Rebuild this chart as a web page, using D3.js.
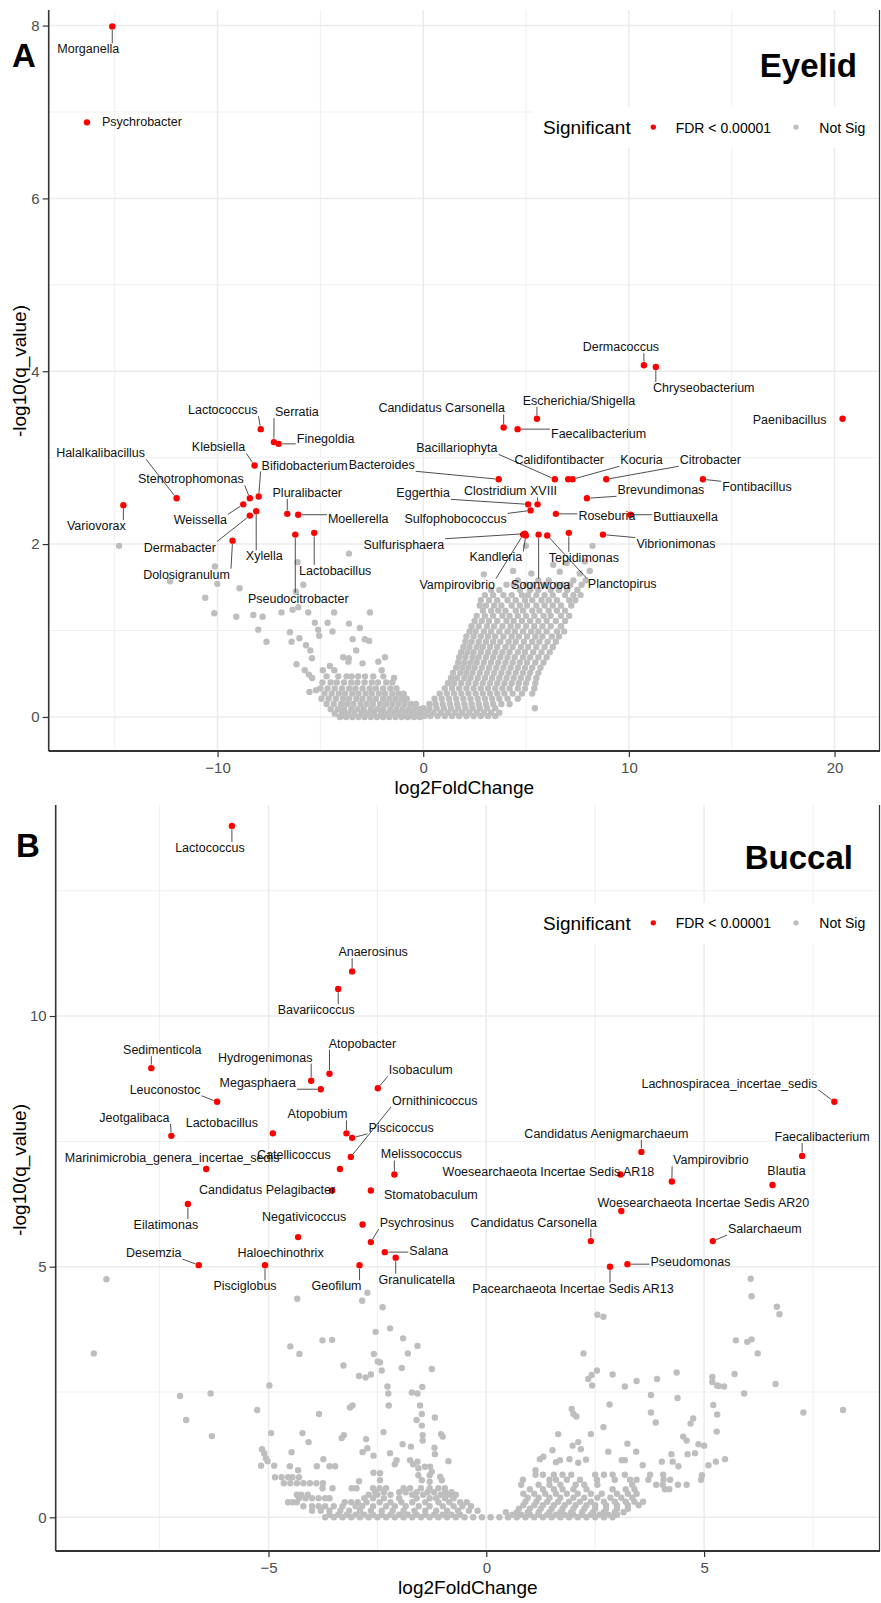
<!DOCTYPE html>
<html>
<head>
<meta charset="utf-8">
<script src="https://cdn.jsdelivr.net/npm/d3@7"></script>
<style>
  body { margin: 0; background: #fff; }
  svg { display: block; font-family: "Liberation Sans", Arial, sans-serif; }
</style>
</head>
<body>
<div id="chart"></div>
<script>
// ---- Panel A (Eyelid): significant genera [name, log2FoldChange, -log10(q)]
var sigA = [
  ["Morganella", -15.12, 7.99], ["Psychrobacter", -16.35, 6.88],
  ["Lactococcus", -7.90, 3.33], ["Serratia", -7.26, 3.18], ["Finegoldia", -7.03, 3.16],
  ["Klebsiella", -8.20, 2.91], ["Bifidobacterium", -8.00, 2.55], ["Bacteroides", 3.67, 2.75],
  ["Halalkalibacillus", -11.99, 2.53], ["Stenotrophomonas", -8.43, 2.53],
  ["Pluralibacter", -6.61, 2.35], ["Moellerella", -6.08, 2.34], ["Weissella", -8.75, 2.46],
  ["Variovorax", -14.58, 2.45], ["Dermabacter", -8.43, 2.33], ["Xylella", -8.12, 2.38],
  ["Dolosigranulum", -9.27, 2.04], ["Lactobacillus", -5.30, 2.13], ["Pseudocitrobacter", -6.22, 2.11],
  ["Candidatus Carsonella", 3.91, 3.35], ["Escherichia/Shigella", 5.53, 3.45],
  ["Faecalibacterium", 4.59, 3.33], ["Dermacoccus", 10.73, 4.07], ["Chryseobacterium", 11.31, 4.05],
  ["Paenibacillus", 20.39, 3.45], ["Bacillariophyta", 6.40, 2.75], ["Calidifontibacter", 7.05, 2.75],
  ["Kocuria", 7.26, 2.75], ["Citrobacter", 8.90, 2.75], ["Fontibacillus", 13.60, 2.75],
  ["Brevundimonas", 7.96, 2.53], ["Eggerthia", 5.10, 2.46], ["Clostridium XVIII", 5.56, 2.46],
  ["Sulfophobococcus", 5.22, 2.39], ["Roseburia", 6.45, 2.35], ["Buttiauxella", 10.08, 2.34],
  ["Sulfurisphaera", 4.94, 2.12], ["Kandleria", 4.99, 2.10], ["Vampirovibrio", 4.86, 2.11],
  ["Soonwooa", 5.61, 2.11], ["Tepidimonas", 7.08, 2.13], ["Planctopirus", 6.03, 2.10],
  ["Vibrionimonas", 8.74, 2.11]
];

// non significant, scattered points [log2FC, -log10(q)]
var greyA = [
  [-14.79,1.98],[-12.31,1.57],[-10.13,1.74],[-10.01,1.54],[-10.6,1.38],[-10.16,1.2],[-9.09,1.16],
  [-8.93,1.49],[-8.26,1.18],[-7.81,1.16],[-8.02,1.01],[-7.62,0.87],[-6.89,1.21],[-6.35,1.24],
  [-6.07,1.27],[-6.19,1.45],[-6.11,1.79],[-5.83,1.53],[-5.59,1.21],[-4.33,1.21],[-3.61,1.89],
  [-2.59,1.21],[-6.48,0.98],[-6.40,0.87],[-6.02,0.91],[-5.27,1.09],[-5.11,1.01],[-5.06,0.94],
  [-4.65,1.09],[-4.41,0.99],[-3.61,1.08],[-3.08,1.03],[-3.43,0.90],[-2.84,0.90],[-2.63,0.88],
  [-3.26,0.77],[-5.70,0.83],[-5.49,0.77],[-5.41,0.68],[-3.62,0.68],[-3.64,0.64],[-4.54,0.59],
  [-6.16,0.61],[-5.76,0.54],[-5.56,0.49],[-5.40,0.45],[-4.88,0.54],[-4.32,0.54],[-2.18,0.64],
  [-1.86,0.69],[-2.02,0.54],[-1.42,0.45],[-5.53,0.29],[-5.21,0.31],[-2.95,0.62],[-3.89,0.69],
  [4.99,1.98],[8.23,1.98],[7.86,1.80],[6.32,1.76],[6.97,1.78],[4.37,1.69],[8.10,1.69],
  [2.95,1.65],[5.26,1.66],[7.61,1.66],[6.64,1.68],[5.43,0.10]
];

// dense part of the cloud, read row by row: [-log10(q), log2FC, log2FC, ...]
var greyRowsA = [
  [1.58, 4.6, 5.6, 6.1, 7.3, 7.9],
  [1.53, 4.05, 4.4, 5.0, 5.35, 5.9, 6.5, 6.8, 7.15, 7.7],
  [1.47, 3.3, 3.7, 4.7, 5.2, 5.6, 6.2, 6.6, 7.0, 7.5],
  [1.41, 3.0, 3.4, 3.9, 4.3, 4.8, 5.1, 5.5, 5.9, 6.3, 6.9, 7.3, 7.65],
  [1.35, 2.8, 3.2, 3.6, 4.1, 4.5, 4.95, 5.3, 5.75, 6.1, 6.5, 7.1, 7.4],
  [1.29, 2.75, 3.05, 3.45, 3.8, 4.3, 4.7, 5.05, 5.5, 5.9, 6.3, 6.7, 7.2],
  [1.23, 2.9, 3.3, 3.65, 4.0, 4.5, 4.85, 5.3, 5.65, 6.1, 6.5, 6.9],
  [1.17, 2.6, 3.0, 3.4, 3.85, 4.2, 4.6, 5.0, 5.4, 5.85, 6.2, 6.7, 7.1],
  [1.11, 2.5, 2.85, 3.2, 3.6, 4.05, 4.4, 4.8, 5.2, 5.6, 6.0, 6.45, 6.9],
  [1.05, 2.35, 2.7, 3.1, 3.45, 3.85, 4.25, 4.6, 5.0, 5.4, 5.8, 6.2, 6.7],
  [0.99, 2.25, 2.55, 2.95, 3.3, 3.7, 4.1, 4.45, 4.85, 5.25, 5.6, 6.0, 6.5, 6.85],
  [0.93, 2.1, 2.45, 2.8, 3.15, 3.5, 3.9, 4.3, 4.65, 5.05, 5.45, 5.8, 6.25, 6.6],
  [0.87, 2.05, 2.35, 2.7, 3.05, 3.4, 3.75, 4.15, 4.5, 4.9, 5.3, 5.65, 6.05, 6.45],
  [0.81, 1.95, 2.25, 2.6, 2.9, 3.25, 3.6, 4.0, 4.35, 4.75, 5.1, 5.5, 5.9, 6.3],
  [0.75, 1.85, 2.15, 2.45, 2.8, 3.15, 3.5, 3.85, 4.2, 4.6, 4.95, 5.35, 5.75, 6.15],
  [0.69, 1.75, 2.05, 2.4, 2.7, 3.05, 3.4, 3.75, 4.1, 4.45, 4.85, 5.2, 5.6, 6.0],
  [0.63, 1.7, 2.0, 2.3, 2.6, 2.95, 3.3, 3.65, 4.0, 4.35, 4.7, 5.05, 5.45, 5.85],
  [0.57, 1.6, 1.9, 2.2, 2.5, 2.85, 3.2, 3.55, 3.9, 4.25, 4.6, 4.95, 5.3, 5.7],
  [0.51, 1.45, 1.8, 2.1, 2.4, 2.75, 3.1, 3.45, 3.8, 4.15, 4.5, 4.85, 5.2, 5.6],
  [0.45, 1.35, 1.65, 2.0, 2.3, 2.65, 3.0, 3.35, 3.7, 4.05, 4.4, 4.75, 5.1, 5.5],
  [0.39, 1.2, 1.5, 1.85, 2.2, 2.55, 2.9, 3.25, 3.6, 3.95, 4.3, 4.65, 5.0, 5.45],
  [0.33, 1.05, 1.4, 1.75, 2.1, 2.45, 2.8, 3.15, 3.5, 3.85, 4.2, 4.6, 4.95, 5.4],
  [0.27, 0.8, 1.15, 1.5, 1.85, 2.2, 2.55, 2.9, 3.25, 3.6, 3.95, 4.35, 4.8, 5.3],
  [0.21, 0.55, 0.9, 1.25, 1.6, 1.95, 2.3, 2.65, 3.0, 3.35, 3.7, 4.1, 4.6],
  [0.15, 0.3, 0.6, 0.95, 1.3, 1.65, 2.0, 2.35, 2.7, 3.05, 3.4, 3.8, 4.2],
  [0.10, 0.0, 0.3, 0.65, 1.0, 1.35, 1.7, 2.05, 2.4, 2.75, 3.1, 3.5],
  [0.05, -0.4, -0.1, 0.2, 0.5, 0.85, 1.2, 1.55, 1.9, 2.25, 2.6, 2.95, 3.3, 3.7],
  [0.01, -0.9, -0.6, -0.3, 0.05, 0.35, 0.7, 1.05, 1.4, 1.75, 2.1, 2.45, 2.8, 3.15, 3.5],
  [0.47, -4.7, -4.13, -3.73, -3.48, -3.16, -2.83, -2.43, -1.94],
  [0.40, -4.9, -4.5, -4.2, -3.85, -3.5, -3.2, -2.85, -2.5, -2.2, -1.8, -1.5],
  [0.33, -5.0, -4.65, -4.3, -3.95, -3.6, -3.3, -2.95, -2.6, -2.3, -1.95, -1.6, -1.3],
  [0.27, -4.8, -4.45, -4.1, -3.8, -3.45, -3.15, -2.8, -2.5, -2.15, -1.85, -1.5, -1.2, -0.95],
  [0.21, -4.95, -4.6, -4.25, -3.9, -3.6, -3.25, -2.95, -2.6, -2.3, -1.95, -1.65, -1.35, -1.05, -0.8],
  [0.15, -4.7, -4.35, -4.0, -3.7, -3.4, -3.05, -2.75, -2.45, -2.1, -1.8, -1.5, -1.2, -0.9, -0.6, -0.35],
  [0.09, -4.5, -4.15, -3.85, -3.5, -3.2, -2.9, -2.55, -2.25, -1.95, -1.6, -1.3, -1.0, -0.7, -0.4, -0.15],
  [0.04, -4.3, -3.95, -3.65, -3.35, -3.0, -2.7, -2.4, -2.05, -1.75, -1.45, -1.15, -0.85, -0.55, -0.25],
  [0.00, -4.05, -3.75, -3.45, -3.15, -2.85, -2.55, -2.25, -1.95, -1.65, -1.35, -1.05, -0.75, -0.45, -0.15]
];

// ---- Panel B (Buccal)
var sigB = [
  ["Lactococcus", -5.84, 13.79], ["Anaerosinus", -3.08, 10.89], ["Bavariicoccus", -3.40, 10.54],
  ["Sedimenticola", -7.69, 8.96], ["Hydrogenimonas", -4.02, 8.71], ["Atopobacter", -3.60, 8.85],
  ["Megasphaera", -3.80, 8.54], ["Isobaculum", -2.49, 8.56], ["Leuconostoc", -6.18, 8.29],
  ["Ornithinicoccus", -3.11, 7.19], ["Atopobium", -3.21, 7.66], ["Piscicoccus", -3.08, 7.57],
  ["Jeotgalibaca", -7.23, 7.61], ["Lactobacillus", -4.90, 7.66], ["Catellicoccus", -3.36, 6.95],
  ["Marinimicrobia_genera_incertae_sedis", -6.43, 6.95], ["Melissococcus", -2.11, 6.84],
  ["Candidatus Pelagibacter", -3.54, 6.52], ["Stomatobaculum", -2.65, 6.52],
  ["Eilatimonas", -6.85, 6.25], ["Negativicoccus", -4.32, 5.59], ["Psychrosinus", -2.65, 5.49],
  ["Haloechinothrix", -2.84, 5.84], ["Desemzia", -6.60, 5.03], ["Pisciglobus", -5.08, 5.03],
  ["Geofilum", -2.91, 5.03], ["Salana", -2.33, 5.29], ["Granulicatella", -2.08, 5.18],
  ["Lachnospiracea_incertae_sedis", 7.99, 8.29], ["Candidatus Aenigmarchaeum", 3.56, 7.29],
  ["Faecalibacterium", 7.25, 7.21], ["Woesearchaeota Incertae Sedis AR18", 3.08, 6.84],
  ["Vampirovibrio", 4.26, 6.70], ["Blautia", 6.57, 6.63],
  ["Woesearchaeota Incertae Sedis AR20", 3.10, 6.11], ["Candidatus Carsonella", 2.40, 5.51],
  ["Salarchaeum", 5.20, 5.51], ["Pseudomonas", 3.24, 5.05],
  ["Pacearchaeota Incertae Sedis AR13", 2.84, 5.00]
];

var greyB = [
  [-8.72,4.75],[-9.01,3.27],[-7.03,2.42],[-6.33,2.47],[-6.89,1.94],[-6.30,1.62],[-4.98,2.63],
  [-5.26,2.14],[-4.94,1.68],[-5.15,1.36],[-5.10,1.28],[-5.06,1.18],[-5.02,1.12],[-4.87,1.03],
  [-5.17,1.03],
  [-4.34,4.36],[-2.85,4.32],[-2.73,4.48],[-2.38,4.19],[-2.21,3.77],[-2.54,3.70],[-1.91,3.57],
  [-1.58,3.42],[-3.76,3.53],[-3.54,3.54],[-4.50,3.41],[-4.29,3.26],[-2.58,3.26],[-2.49,3.11],
  [-2.44,3.09],[-2.40,2.93],[-1.80,3.27],[-1.94,2.98],[-1.25,2.96],[-3.28,3.03],[-2.92,2.82],
  [-2.77,2.79],[-2.65,2.85],[-2.27,2.61],[-2.25,2.47],[-1.71,2.49],[-1.58,2.47],[-1.47,2.60],
  [-2.24,2.23],[-3.13,2.19],[-3.07,2.23],[-3.84,2.06],[-1.52,2.23],[-1.48,2.06],[-1.60,1.94],
  [-1.48,1.83],[-1.18,1.99],[-4.22,1.68],[-4.08,1.50],[-3.32,1.58],[-3.27,1.64],[-2.76,1.56],
  [-2.36,1.70],[-1.46,1.53],[-1.46,1.64],[-1.04,1.66],[-1.00,1.61],[-1.92,1.46],[-1.73,1.41],
  [-1.19,1.39],[-1.18,1.26],[-4.47,1.30],[-2.84,1.30],[-2.73,1.38],[-2.59,1.23],[-2.21,1.28],
  [-2.06,1.14],[-2.10,1.06],[-1.75,1.14],[-1.68,1.06],[-1.58,1.11],[-0.87,1.12],[-4.51,1.02],
  [-4.32,0.94],[-3.89,1.02],[-3.74,1.16],[-3.60,1.02],[-3.47,1.02],[-1.56,0.98],[-1.41,1.01],
  [-1.29,1.01],[-1.25,0.91],[-2.59,0.89],[-2.44,0.88],[-2.44,0.74],[-2.92,0.72],[-1.56,0.84],
  [-1.48,0.74],[-1.30,0.71],[-1.30,0.84],[-1.06,0.81],[-1.02,0.74],
  [2.55,4.04],[2.69,4.00],[2.23,3.27],[2.54,2.93],[2.42,2.84],[2.34,2.76],[2.43,2.63],[2.90,2.85],
  [3.18,2.61],[3.45,2.72],[3.92,2.76],[4.37,2.89],[3.78,2.44],[4.39,2.38],[5.19,2.80],[5.19,2.70],
  [5.30,2.63],[2.83,2.25],[1.96,2.16],[2.00,2.06],[2.07,2.01],[3.78,2.09],[3.89,1.89],[5.21,2.24],
  [5.30,2.05],[2.69,1.80],[2.40,1.66],[1.65,1.66],[4.75,1.97],[4.69,1.87],[5.29,1.71],[4.52,1.61],
  [4.60,1.53],[4.87,1.46],[5.00,1.43],[3.24,1.47],[2.80,1.31],[3.44,1.31],[1.98,1.43],[2.11,1.50],
  [2.17,1.36],[1.52,1.34],[1.31,1.21],[1.23,1.16],[1.69,1.14],[1.60,1.10],[1.91,1.16],[2.11,1.09],
  [2.29,1.15],[3.11,1.14],[3.18,1.14],[3.59,1.04],[4.03,1.11],[4.25,1.26],[4.28,1.11],[4.41,1.02],
  [4.62,1.26],[4.79,1.28],[5.27,1.11],[5.10,1.04],[1.13,0.94],
  [6.07,4.76],[6.09,4.41],[6.67,4.20],[6.73,4.05],[5.73,3.53],[5.99,3.50],[6.09,3.55],[6.23,3.27],
  [5.70,2.86],[5.46,2.61],[5.33,2.62],[5.92,2.47],[6.64,2.66],[7.28,2.09],[8.19,2.14],[5.48,1.16],
  [4.95,0.84]
];

var greyRowsB = [
  [0.80, -4.85, -4.7, -4.55, -4.45, -4.3],
  [0.68, -4.65, -4.5, -4.35, -4.2, -4.05, -3.9, -3.75],
  [0.58, -3.76, -3.53, -3.09, -2.98, -2.6, -2.45, -2.3, -1.9, -1.75, -1.5, -1.3, -1.1, -0.95],
  [0.50, -2.55, -2.35, -2.0, -1.85, -1.6, -1.35, -1.2, -0.95, -0.8],
  [0.45, -4.35, -4.25, -4.1, -2.7, -2.5, -2.2, -1.7, -1.45, -1.05, -0.85, -0.7],
  [0.38, -4.3, -4.15, -4.0, -3.85, -3.7, -3.6, -2.8, -2.6, -2.35, -2.0, -1.6, -1.3, -1.15, -0.95, -0.75],
  [0.30, -4.55, -4.45, -4.35, -3.25, -3.1, -2.95, -2.75, -2.45, -2.2, -1.95, -1.7, -1.4, -1.1, -0.85, -0.6, -0.45],
  [0.22, -4.2, -4.0, -3.85, -3.7, -3.5, -3.3, -3.0, -2.85, -2.6, -2.3, -2.1, -1.85, -1.55, -1.3, -1.0, -0.75, -0.55, -0.35],
  [0.13, -4.0, -3.8, -3.6, -3.35, -3.15, -2.9, -2.65, -2.4, -2.15, -1.9, -1.65, -1.4, -1.15, -0.9, -0.65, -0.4, -0.2],
  [0.05, -3.6, -3.4, -3.2, -3.0, -2.8, -2.6, -2.4, -2.2, -2.0, -1.8, -1.6, -1.4, -1.2, -1.0, -0.8, -0.6,
         0.6, 0.8, 1.0, 1.2, 1.4, 1.6, 1.8, 2.0, 2.2, 2.4, 2.6, 2.8, 3.0],
  [0.00, -3.7, -3.5, -3.3, -3.1, -2.9, -2.7, -2.5, -2.3, -2.1, -1.9, -1.7, -1.5, -1.3, -1.1, -0.9, -0.7,
         -0.5, -0.3, -0.1, 0.1, 0.3, 0.5, 0.7, 0.9, 1.1, 1.3, 1.5, 1.7, 1.9, 2.1, 2.3, 2.5, 2.7, 2.9],
  [0.10, 0.45, 0.7, 0.95, 1.2, 1.45, 1.7, 1.95, 2.2, 2.45, 2.7, 2.95, 3.15],
  [0.17, 0.75, 1.0, 1.25, 1.5, 1.75, 2.0, 2.25, 2.5, 2.75, 3.0, 3.25],
  [0.24, 0.85, 1.1, 1.3, 1.55, 1.8, 2.05, 2.3, 2.5, 2.75, 3.0, 3.25, 3.5],
  [0.31, 0.9, 1.15, 1.4, 1.65, 1.9, 2.15, 2.4, 2.7, 2.95, 3.2, 3.4, 3.6],
  [0.39, 0.95, 1.2, 1.45, 1.7, 2.0, 2.25, 2.55, 2.85, 3.1, 3.35],
  [0.47, 0.85, 1.1, 1.35, 1.6, 1.85, 2.1, 2.4, 2.65, 3.0, 3.25, 3.45],
  [0.56, 1.0, 1.3, 1.55, 1.75, 2.0, 2.3, 2.9, 3.2, 3.4, 4.1, 4.2],
  [0.65, 0.8, 1.2, 1.45, 1.7, 2.05, 2.25, 2.55, 3.35, 3.9, 4.05, 4.4, 4.6],
  [0.75, 0.84, 1.45, 1.6, 1.85, 2.15, 2.54, 2.95, 3.3, 3.45, 3.72, 4.07, 4.22, 4.93],
  [0.85, 1.13, 1.3, 1.55, 1.75, 1.95, 2.5, 2.7, 2.9, 3.18, 3.76, 4.06]
];

// label placement (pixel offset of label centre from its point, draw segment 1/0)
var nudgeA = {
  "Morganella": [-24, 23, 1], "Psychrobacter": [55, 0, 0], "Lactococcus": [-38, -19, 1],
  "Serratia": [23, -30, 1], "Finegoldia": [47, -5, 1], "Klebsiella": [-36, -18, 1],
  "Bifidobacterium": [46, -31, 1], "Bacteroides": [-117, -14, 1], "Halalkalibacillus": [-76, -45, 1],
  "Stenotrophomonas": [-59, -19, 1], "Pluralibacter": [20, -21, 1], "Moellerella": [60, 4, 1],
  "Weissella": [-43, 16, 1], "Variovorax": [-27, 21, 1], "Dermabacter": [-70, 32, 1],
  "Xylella": [8, 45, 1], "Dolosigranulum": [-46, 34, 1], "Lactobacillus": [21, 38, 1],
  "Pseudocitrobacter": [3, 64, 1], "Candidatus Carsonella": [-62, -19, 1],
  "Escherichia/Shigella": [42, -18, 1], "Faecalibacterium": [81, 5, 1], "Dermacoccus": [-23, -18, 1],
  "Chryseobacterium": [48, 21, 1], "Paenibacillus": [-53, 1, 0], "Bacillariophyta": [-98, -31, 1],
  "Calidifontibacter": [-9, -19, 0], "Kocuria": [69, -19, 1], "Citrobacter": [104, -19, 1],
  "Fontibacillus": [54, 8, 1], "Brevundimonas": [74, -8, 1], "Eggerthia": [-105, -11, 1],
  "Clostridium XVIII": [-27, -13, 1], "Sulfophobococcus": [-75, 9, 1], "Roseburia": [51, 2, 1],
  "Buttiauxella": [55, 2, 1], "Sulfurisphaera": [-121, 11, 1], "Kandleria": [-30, 22, 1],
  "Vampirovibrio": [-66, 50, 1], "Soonwooa": [2, 50, 1], "Tepidimonas": [15, 25, 1],
  "Planctopirus": [75, 49, 1], "Vibrionimonas": [73, 9, 1]
};
var nudgeB = {
  "Lactococcus": [-22, 22, 1], "Anaerosinus": [21, -19, 1], "Bavariicoccus": [-22, 21, 1],
  "Sedimenticola": [11, -18, 1], "Hydrogenimonas": [-46, -23, 1], "Atopobacter": [33, -30, 1],
  "Megasphaera": [-63, -6, 1], "Isobaculum": [43, -18, 1], "Leuconostoc": [-52, -12, 1],
  "Ornithinicoccus": [84, -56, 1], "Atopobium": [-29, -19, 1], "Piscicoccus": [49, -10, 1],
  "Jeotgalibaca": [-37, -18, 1], "Lactobacillus": [-51, -10, 0], "Catellicoccus": [-46, -14, 0],
  "Marinimicrobia_genera_incertae_sedis": [-34, -11, 0], "Melissococcus": [27, -20, 1],
  "Candidatus Pelagibacter": [-65, 0, 0], "Stomatobaculum": [60, 5, 0], "Eilatimonas": [-22, 21, 1],
  "Negativicoccus": [6, -20, 0], "Psychrosinus": [46, -19, 1], "Haloechinothrix": [-82, 28, 0],
  "Desemzia": [-45, -12, 1], "Pisciglobus": [-20, 21, 1], "Geofilum": [-23, 21, 1],
  "Salana": [44, -1, 1], "Granulicatella": [21, 22, 1], "Lachnospiracea_incertae_sedis": [-105, -18, 1],
  "Candidatus Aenigmarchaeum": [-35, -18, 1], "Faecalibacterium": [20, -19, 1],
  "Woesearchaeota Incertae Sedis AR18": [-72, -2, 0], "Vampirovibrio": [39, -21, 1],
  "Blautia": [14, -14, 0], "Woesearchaeota Incertae Sedis AR20": [82, -8, 0],
  "Candidatus Carsonella": [-57, -18, 1], "Salarchaeum": [52, -12, 1], "Pseudomonas": [63, -2, 1],
  "Pacearchaeota Incertae Sedis AR13": [-37, 22, 1]
};

var W = 881, H = 1603;
var svg = d3.select("#chart").append("svg").attr("width", W).attr("height", H);

function flatRows(rows) {
  var out = [];
  rows.forEach(function(r) { r.slice(1).forEach(function(v) { out.push([v, r[0]]); }); });
  return out;
}

function drawPanel(cfg) {
  var g = svg.append("g");
  var x = d3.scaleLinear().domain(cfg.xDom).range([cfg.left, cfg.right]);
  var y = d3.scaleLinear().domain(cfg.yDom).range([cfg.bottom, cfg.top]);

  // grid
  g.selectAll(null).data(cfg.xMinor).join("line")
    .attr("x1", d => x(d)).attr("x2", d => x(d)).attr("y1", cfg.top).attr("y2", cfg.bottom)
    .attr("stroke", "#ebebeb").attr("stroke-width", 0.8);
  g.selectAll(null).data(cfg.yMinor).join("line")
    .attr("y1", d => y(d)).attr("y2", d => y(d)).attr("x1", cfg.left).attr("x2", cfg.right)
    .attr("stroke", "#ebebeb").attr("stroke-width", 0.8);
  g.selectAll(null).data(cfg.xTicks).join("line")
    .attr("x1", d => x(d)).attr("x2", d => x(d)).attr("y1", cfg.top).attr("y2", cfg.bottom)
    .attr("stroke", "#ebebeb").attr("stroke-width", 1.5);
  g.selectAll(null).data(cfg.yTicks).join("line")
    .attr("y1", d => y(d)).attr("y2", d => y(d)).attr("x1", cfg.left).attr("x2", cfg.right)
    .attr("stroke", "#ebebeb").attr("stroke-width", 1.5);

  // axes
  var xa = g.append("g").attr("transform", "translate(0," + cfg.bottom + ")")
    .call(d3.axisBottom(x).tickValues(cfg.xTicks).tickSize(6).tickPadding(5));
  var ya = g.append("g").attr("transform", "translate(" + cfg.left + ",0)")
    .call(d3.axisLeft(y).tickValues(cfg.yTicks).tickSize(6).tickPadding(3));
  [xa, ya].forEach(function(a) {
    a.select(".domain").remove();
    a.selectAll("line").attr("stroke", "#333").attr("stroke-width", 1.2);
    a.selectAll("text").attr("fill", "#4d4d4d").style("font-size", "15px")
      .style("font-family", "Liberation Sans, Arial, sans-serif");
  });

  // points
  var grey = cfg.grey.concat(flatRows(cfg.greyRows));
  g.selectAll(null).data(grey).join("circle")
    .attr("cx", d => x(d[0])).attr("cy", d => y(d[1])).attr("r", 3.2).attr("fill", "#bebebe");
  g.selectAll(null).data(cfg.sig).join("circle")
    .attr("cx", d => x(d[1])).attr("cy", d => y(d[2])).attr("r", 3.2).attr("fill", "#ff0000");

  // repel-style labels
  var segs = g.append("g"), labs = g.append("g");
  cfg.sig.forEach(function(d) {
    var n = cfg.nudge[d[0]];
    var px = x(d[1]), py = y(d[2]);
    var t = labs.append("text").attr("x", px + n[0]).attr("y", py + n[1])
      .attr("text-anchor", "middle").attr("dominant-baseline", "central")
      .attr("fill", "#111").style("font-size", "12.5px").text(d[0]);
    if (!n[2]) return;
    var b = t.node().getBBox();
    var x0 = b.x - 1, x1 = b.x + b.width + 1, y0 = b.y + 1, y1 = b.y + b.height - 1;
    var ex = Math.max(x0, Math.min(px, x1)), ey = Math.max(y0, Math.min(py, y1));
    var dx = ex - px, dy = ey - py, len = Math.sqrt(dx * dx + dy * dy);
    if (len < 4) return;
    var sx = px + dx / len * 3.5, sy = py + dy / len * 3.5;
    segs.append("line").attr("x1", sx).attr("y1", sy).attr("x2", ex).attr("y2", ey)
      .attr("stroke", "#222").attr("stroke-width", 0.8);
  });

  // panel border
  var bc = "#333";
  g.append("line").attr("x1", cfg.left).attr("x2", cfg.left).attr("y1", cfg.top).attr("y2", cfg.bottom)
    .attr("stroke", bc).attr("stroke-width", 1.6);
  g.append("line").attr("x1", cfg.left).attr("x2", cfg.right).attr("y1", cfg.bottom).attr("y2", cfg.bottom)
    .attr("stroke", bc).attr("stroke-width", 1.8);
  g.append("line").attr("x1", cfg.right - 0.5).attr("x2", cfg.right - 0.5).attr("y1", cfg.top).attr("y2", cfg.bottom)
    .attr("stroke", bc).attr("stroke-width", 1.2);

  // legend (inside the panel)
  var R = cfg.right, ly = cfg.top + 0.158 * (cfg.bottom - cfg.top);
  var lg = g.append("g");
  lg.append("rect").attr("x", R - 348).attr("y", ly - 20).attr("width", 346).attr("height", 41).attr("fill", "#fff");
  lg.append("text").attr("x", R - 337).attr("y", ly + 7).style("font-size", "19px").attr("fill", "#000").text("Significant");
  lg.append("circle").attr("cx", R - 226.7).attr("cy", ly).attr("r", 2.7).attr("fill", "#ff0000");
  lg.append("text").attr("x", R - 204.3).attr("y", ly + 5.5).style("font-size", "14px").attr("fill", "#000").text("FDR < 0.00001");
  lg.append("circle").attr("cx", R - 84).attr("cy", ly).attr("r", 2.7).attr("fill", "#bebebe");
  lg.append("text").attr("x", R - 60.7).attr("y", ly + 5.5).style("font-size", "14px").attr("fill", "#000").text("Not Sig");

  // titles
  g.append("text").attr("x", cfg.titleX).attr("y", cfg.titleY).attr("text-anchor", "end")
    .style("font-size", "33px").style("font-weight", "bold").attr("fill", "#000").text(cfg.title);
  g.append("text").attr("x", cfg.tagX).attr("y", cfg.tagY)
    .style("font-size", "33px").style("font-weight", "bold").attr("fill", "#000").text(cfg.tag);
  g.append("text").attr("x", (cfg.left + cfg.right) / 2).attr("y", cfg.bottom + 43)
    .attr("text-anchor", "middle").style("font-size", "19px").attr("fill", "#000").text("log2FoldChange");
  g.append("text").attr("transform", "translate(25.5," + cfg.yTitleY + ") rotate(-90)")
    .attr("text-anchor", "middle").style("font-size", "19px").attr("fill", "#000").text("-log10(q_value)");
}

drawPanel({
  left: 48.7, right: 880, top: 10, bottom: 751,
  xDom: [-18.21, 22.21], yDom: [-0.394, 8.18],
  xTicks: [-10, 0, 10, 20], xMinor: [-15, -5, 5, 15],
  yTicks: [0, 2, 4, 6, 8], yMinor: [1, 3, 5, 7],
  sig: sigA, grey: greyA, greyRows: greyRowsA, nudge: nudgeA,
  title: "Eyelid", titleX: 857, titleY: 77, tag: "A", tagX: 12, tagY: 67, yTitleY: 371
});

drawPanel({
  left: 55.7, right: 880, top: 805, bottom: 1551,
  xDom: [-9.885, 9.038], yDom: [-0.672, 14.21],
  xTicks: [-5, 0, 5], xMinor: [-7.5, -2.5, 2.5, 7.5],
  yTicks: [0, 5, 10], yMinor: [2.5, 7.5, 12.5],
  sig: sigB, grey: greyB, greyRows: greyRowsB, nudge: nudgeB,
  title: "Buccal", titleX: 853, titleY: 869, tag: "B", tagX: 16, tagY: 857, yTitleY: 1170
});
</script>
</body>
</html>
